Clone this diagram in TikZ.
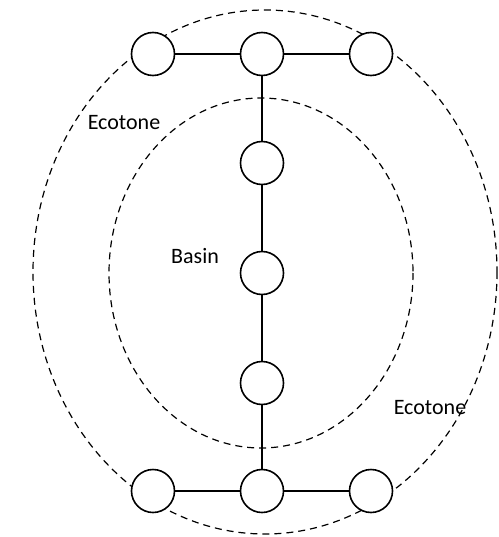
\documentclass[tikz,border=0pt]{standalone}
\usepackage{fontspec}
\setmainfont{Carlito}
\begin{document}
\begin{tikzpicture}[x=1pt,y=-1pt,
  site/.style={circle,draw,line width=1.6pt,minimum size=43pt,inner sep=0pt,fill=white},
  link/.style={line width=1.6pt},
  zone/.style={line width=1.2pt,dash pattern=on 7pt off 5pt},
  lbl/.style={font=\fontsize{22}{26}\selectfont,inner sep=0pt}]
\useasboundingbox (0,0) rectangle (498,537);
\draw[zone] (265,272) ellipse [x radius=232, y radius=262];
\draw[zone] (261,273) ellipse [x radius=152, y radius=175];
\node[site] (t1) at (153,54) {};
\node[site] (t2) at (262,54) {};
\node[site] (t3) at (371,54) {};
\node[site] (m1) at (262,163) {};
\node[site] (m2) at (262,273) {};
\node[site] (m3) at (262,383) {};
\node[site] (b1) at (153,491) {};
\node[site] (b2) at (262,491) {};
\node[site] (b3) at (371,491) {};
\draw[link] (t1) -- (t2);
\draw[link] (t2) -- (t3);
\draw[link] (t2) -- (m1);
\draw[link] (m1) -- (m2);
\draw[link] (m2) -- (m3);
\draw[link] (m3) -- (b2);
\draw[link] (b1) -- (b2);
\draw[link] (b2) -- (b3);
\node[lbl] (e1) at (124,123) {Ecotone};
\node[lbl] (bs) at (195,256) {Basin};
\node[lbl] (e2) at (430,408) {Ecotone};
\end{tikzpicture}
\end{document}
